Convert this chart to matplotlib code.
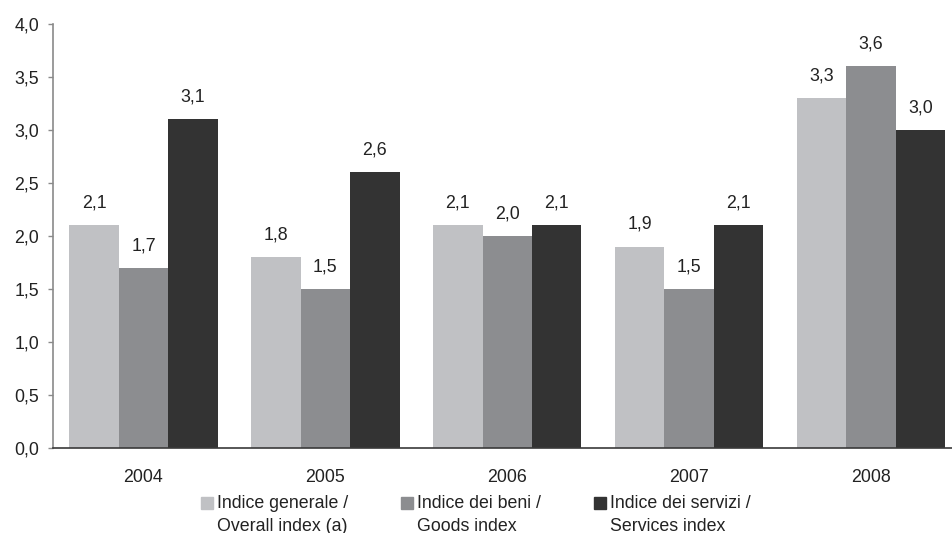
import matplotlib.pyplot as plt
import numpy as np
from matplotlib.patches import Rectangle

plt.rcParams['font.family'] = ['Liberation Sans', 'DejaVu Sans']

# Dati
anni = ['2004', '2005', '2006', '2007', '2008']
indice_generale = [2.1, 1.8, 2.1, 1.9, 3.3]
indice_beni = [1.7, 1.5, 2.0, 1.5, 3.6]
indice_servizi = [3.1, 2.6, 2.1, 2.1, 3.0]
serie = [indice_generale, indice_beni, indice_servizi]
etichette = ['Indice generale /\nOverall index (a)',
             'Indice dei beni /\nGoods index',
             'Indice dei servizi /\nServices index']
colori = ['#c0c1c4', '#8c8d90', '#333333']
yticks = [0.0, 0.5, 1.0, 1.5, 2.0, 2.5, 3.0, 3.5, 4.0]

testo = '#222222'
fs = 12.8

fig = plt.figure(figsize=(9.52, 5.33), dpi=100)
ax = fig.add_axes([52.5 / 952, 85 / 533, 1 - 52.5 / 952, (448 - 24) / 533])

x = np.arange(len(anni))
w = 0.272
for i, (vals, col) in enumerate(zip(serie, colori)):
    pos = x + (i - 1) * w
    ax.bar(pos, vals, width=w, color=col, edgecolor='none', zorder=2)
    for xx, v in zip(pos, vals):
        ax.annotate(f'{v:.1f}'.replace('.', ','), (xx, v), xytext=(0, 16),
                    textcoords='offset points', ha='center', va='center',
                    fontsize=fs, color=testo)

ax.set_xlim(-0.5, 4.445)
ax.set_ylim(0, 4.0)
ax.set_yticks(yticks)
ax.set_yticklabels([f'{t:.1f}'.replace('.', ',') for t in yticks])
ax.set_xticks(x)
ax.set_xticklabels(anni)

ax.tick_params(axis='y', length=3.6, width=1, color='#8a8a8a', pad=6,
               labelsize=fs, labelcolor=testo)
ax.tick_params(axis='x', length=0, pad=15, labelsize=fs, labelcolor=testo)

for s in ['top', 'right']:
    ax.spines[s].set_visible(False)
ax.spines['left'].set_color('#8a8a8a')
ax.spines['left'].set_linewidth(1.2)
ax.spines['bottom'].set_color('#3a3a3a')
ax.spines['bottom'].set_linewidth(1.2)

# Legenda manuale
leg_x = [201, 401, 594]
for lx, col, lab in zip(leg_x, colori, etichette):
    fig.add_artist(Rectangle((lx / 952, 1 - 509 / 533), 12 / 952, 12 / 533,
                             transform=fig.transFigure, color=col))
    fig.text((lx + 16) / 952, 1 - 495 / 533, lab, ha='left', va='top',
             fontsize=fs, color=testo, linespacing=1.45)

fig.savefig('out.png', dpi=100)
